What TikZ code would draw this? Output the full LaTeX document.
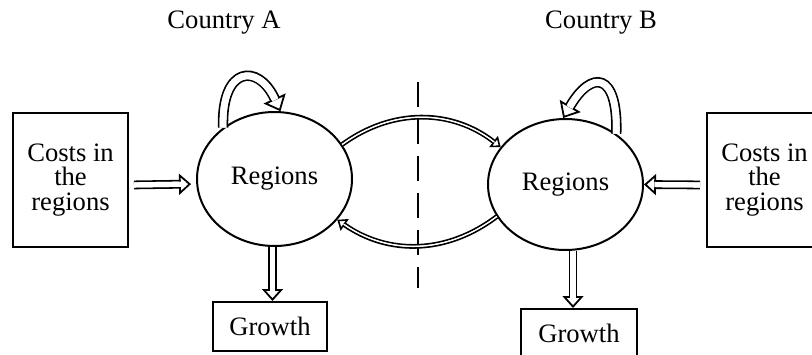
\documentclass[tikz,border=0pt]{standalone}
\usepackage{fontspec}
\setmainfont{Liberation Serif}
\usetikzlibrary{shapes.geometric,arrows.meta}
\begin{document}
\begin{tikzpicture}[x=0.5pt,y=0.5pt,line width=1pt,
  font=\fontsize{13.3pt}{12.3pt}\selectfont,
  box/.style={draw,align=center,inner sep=0pt},
  reg/.style={draw,ellipse,inner sep=0pt,minimum width=77.5pt},
  hollow/.style={double,line width=0.9pt,double distance=2.6pt,
    -{Triangle[open,fill=white,line width=0.9pt,length=6pt,width=10.5pt]},
    postaction={draw=white,line width=2.6pt,-,shorten >=5.2pt}},
  looparr/.style={double,line width=0.9pt,double distance=3.4pt,
    -{Triangle[open,fill=white,line width=0.9pt,length=7pt,width=12pt]},
    postaction={draw=white,line width=3.4pt,-,shorten >=6.2pt}},
  flow/.style={double,line width=0.9pt,double distance=0.6pt,
    -{Triangle[open,fill=white,line width=0.8pt,length=4.5pt,width=7pt]},
    postaction={draw=white,line width=0.6pt,-,shorten >=3.8pt}}]
\useasboundingbox (0,0) rectangle (812,354);
\node at (224,331){Country A};
\node at (601,331){Country B};
\node[box,minimum width=57.5pt,minimum height=67pt](costA) at (70.5,174){Costs in\\the\\regions};
\node[box,minimum width=57.5pt,minimum height=67pt](costB) at (764.5,174){Costs in\\the\\regions};
\node[reg,minimum height=67pt](regA) at (274.5,175){Regions};
\node[reg,minimum height=65.5pt](regB) at (565.5,169.5){Regions};
\node[box,minimum width=57pt,minimum height=24.5pt](grA) at (270,27.5){Growth};
\node[box,minimum width=58pt,minimum height=24.5pt](grB) at (579,20.5){Growth};
\coordinate (top) at (418,272);
\coordinate (bot) at (418,66);
\draw[dash pattern=on 12.5pt off 6pt](top)--(bot);
\draw[hollow,shorten <=2.5pt,shorten >=2.5pt]([yshift=-2.5pt]costA.east)--([yshift=-2.5pt]regA.west);
\draw[hollow,shorten <=3pt]([yshift=-2.5pt]costB.west)--(regB.east);
\draw[hollow]([xshift=-1pt]regA.south)--([xshift=-1pt]regA.south|-grA.north);
\draw[hollow]([xshift=3.75pt]regB.south)--([xshift=3.75pt]regB.south|-grB.north);
\draw[looparr](regA.135) .. controls +(-2,62) and +(-22,48) .. (regA.85);
\draw[looparr](regB.45) .. controls +(2,62.5) and +(28,48) .. (regB.92);
\draw[flow](regA.27) to[bend left=37] (regB.150);
\draw[flow](regB.205) to[bend left=36] (regA.-33);
\end{tikzpicture}
\end{document}
